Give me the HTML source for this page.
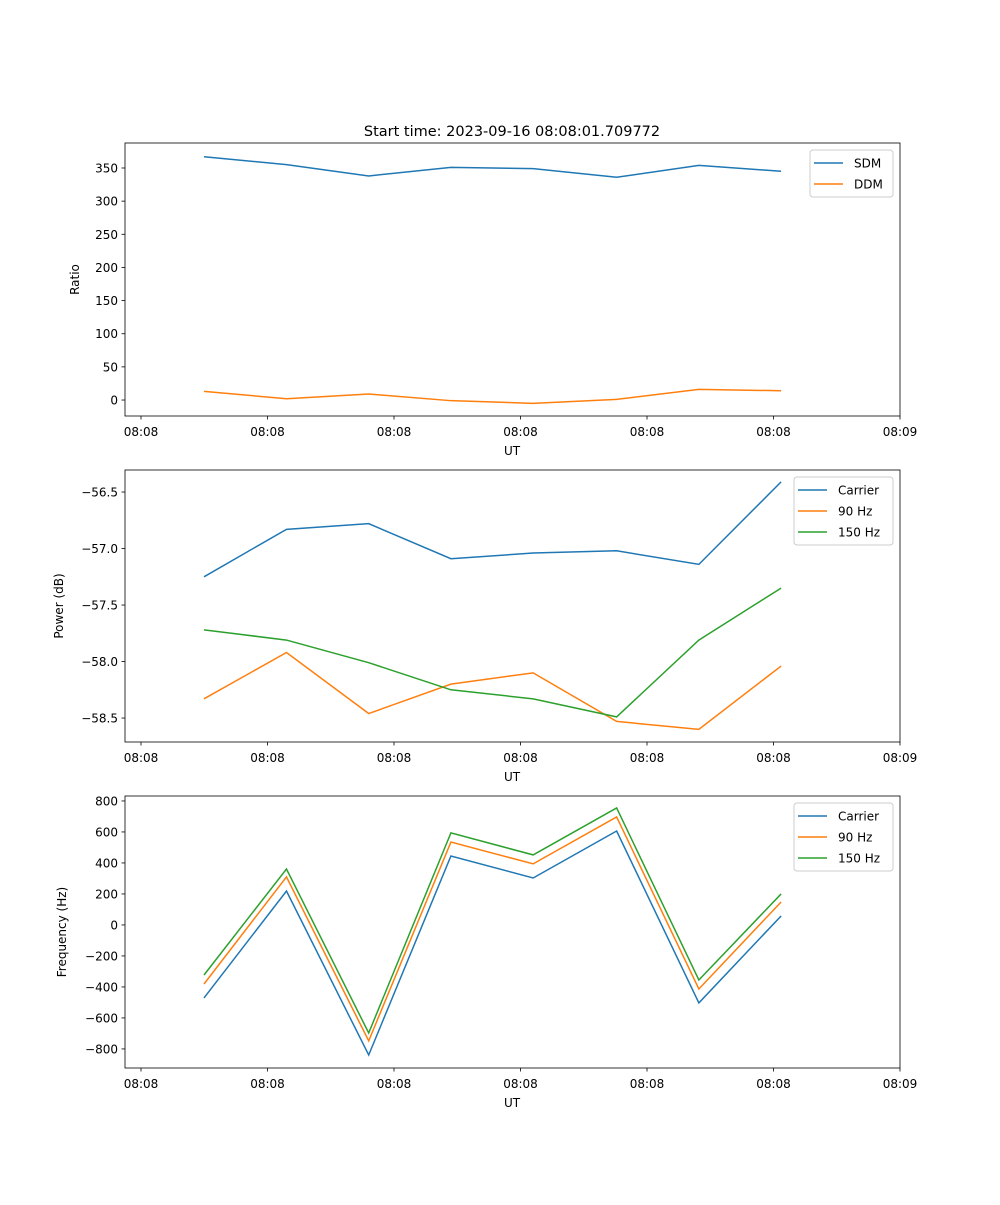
<!DOCTYPE html>
<html><head><meta charset="utf-8"><style>
body{margin:0;background:#fff;font-family:"Liberation Sans","DejaVu Sans",sans-serif}
svg text{font-family:"DejaVu Sans","Liberation Sans",sans-serif}
</style></head><body>
<svg id="c" width="1000" height="1200" xmlns="http://www.w3.org/2000/svg"></svg>
<script>
const times=[4.98,11.5,18.0,24.5,31.0,37.6,44.1,50.6];
const xTicks=[0,10,20,30,40,50,60];
const xTickLabels=["08:08","08:08","08:08","08:08","08:08","08:08","08:09"];
const sdm=[367,355,338,351,349,336,354,345];
const ddm=[13,2,9,-1,-5,1,16,14];
const powCarrier=[-57.25,-56.83,-56.78,-57.09,-57.04,-57.02,-57.14,-56.41];
const pow90=[-58.33,-57.92,-58.46,-58.20,-58.10,-58.53,-58.60,-58.04];
const pow150=[-57.72,-57.81,-58.01,-58.25,-58.33,-58.49,-57.81,-57.35];
const freqCarrier=[-471,219,-839,445,303,606,-503,58];
const freq90=[-381,310,-748,535,394,697,-413,148];
const freq150=[-323,361,-697,594,452,755,-355,200];
const ratioTicks=[0,50,100,150,200,250,300,350];
const powTicks=[-58.5,-58.0,-57.5,-57.0,-56.5];
const freqTicks=[-800,-600,-400,-200,0,200,400,600,800];

const NS="http://www.w3.org/2000/svg";
const svg=document.getElementById('c');
function el(tag,attrs,parent){const e=document.createElementNS(NS,tag);for(const k in attrs)e.setAttribute(k,attrs[k]);(parent||svg).appendChild(e);return e;}
const X0=125,X1=900;
function xs(t){return 141+(t-0)*(900-141)/60;}
const C=['#1f77b4','#ff7f0e','#2ca02c'];

function panel(name,top,bot,ymin,ymax,ticks,fmt,ylabel,ylabelX,series,names,legend){
  const g=el('g',{});
  
  
  const ys=v=>bot-(v-ymin)/(ymax-ymin)*(bot-top);
  series.forEach((s,i)=>{
    const p=el('polyline',{points:s.map((v,j)=>xs(times[j])+','+ys(v)).join(' '),fill:'none',stroke:C[i],'stroke-width':1.5},g);
    
    
  });
  const f=el('rect',{x:X0,y:top,width:X1-X0,height:bot-top,fill:'none',stroke:'#000','stroke-width':0.8},g);
  
  
  xTicks.forEach((t,i)=>{
    el('line',{x1:xs(t),x2:xs(t),y1:bot,y2:bot+3.5,stroke:'#000','stroke-width':0.8},g);
    const tx=el('text',{x:xs(t),y:bot+20,'font-size':12,'text-anchor':'middle'},g);tx.textContent=xTickLabels[i];
    
    
  });
  ticks.forEach(v=>{
    el('line',{x1:X0-3.5,x2:X0,y1:ys(v),y2:ys(v),stroke:'#000','stroke-width':0.8},g);
    const tx=el('text',{x:X0-7,y:ys(v)+4.5,'font-size':12,'text-anchor':'end'},g);tx.textContent=fmt(v);
    
    
  });
  const xl=el('text',{x:512,y:bot+39,'font-size':12,'text-anchor':'middle'},g);xl.textContent='UT';
  
  
  const yl=el('text',{x:ylabelX,y:(top+bot)/2,'font-size':12,'text-anchor':'middle',transform:`rotate(-90 ${ylabelX} ${(top+bot)/2})`},g);yl.textContent=ylabel;
  
  
  const lg=el('g',{},g);
  
  
  el('rect',{x:legend[0],y:top+7,width:893-legend[0],height:names.length*21+5,fill:'#fff',stroke:'#ccc',rx:3},lg);
  names.forEach((n,i)=>{
    const yy=top+20+i*21;
    el('line',{x1:legend[0]+4,x2:legend[0]+33,y1:yy,y2:yy,stroke:C[i],'stroke-width':1.5},lg);
    const t=el('text',{x:legend[0]+44,y:yy+4.5,'font-size':12},lg);t.textContent=n;
    
    
  });
}
const tt=el('text',{x:512,y:136,'font-size':14.5,'text-anchor':'middle'});tt.textContent='Start time: 2023-09-16 08:08:01.709772';


panel('ratio',143,416,-24.1,387.7,ratioTicks,v=>String(v),'Ratio',79,[sdm,ddm],['SDM','DDM'],[810]);
panel('power',470,742,-58.712,-56.305,powTicks,v=>'\u2212'+Math.abs(v).toFixed(1),'Power (dB)',63,[powCarrier,pow90,pow150],['Carrier','90 Hz','150 Hz'],[794]);
panel('frequency',796,1068,-923,832,freqTicks,v=>(v<0?'\u2212':'')+Math.abs(v),'Frequency (Hz)',66,[freqCarrier,freq90,freq150],['Carrier','90 Hz','150 Hz'],[794]);
</script>
</body></html>
